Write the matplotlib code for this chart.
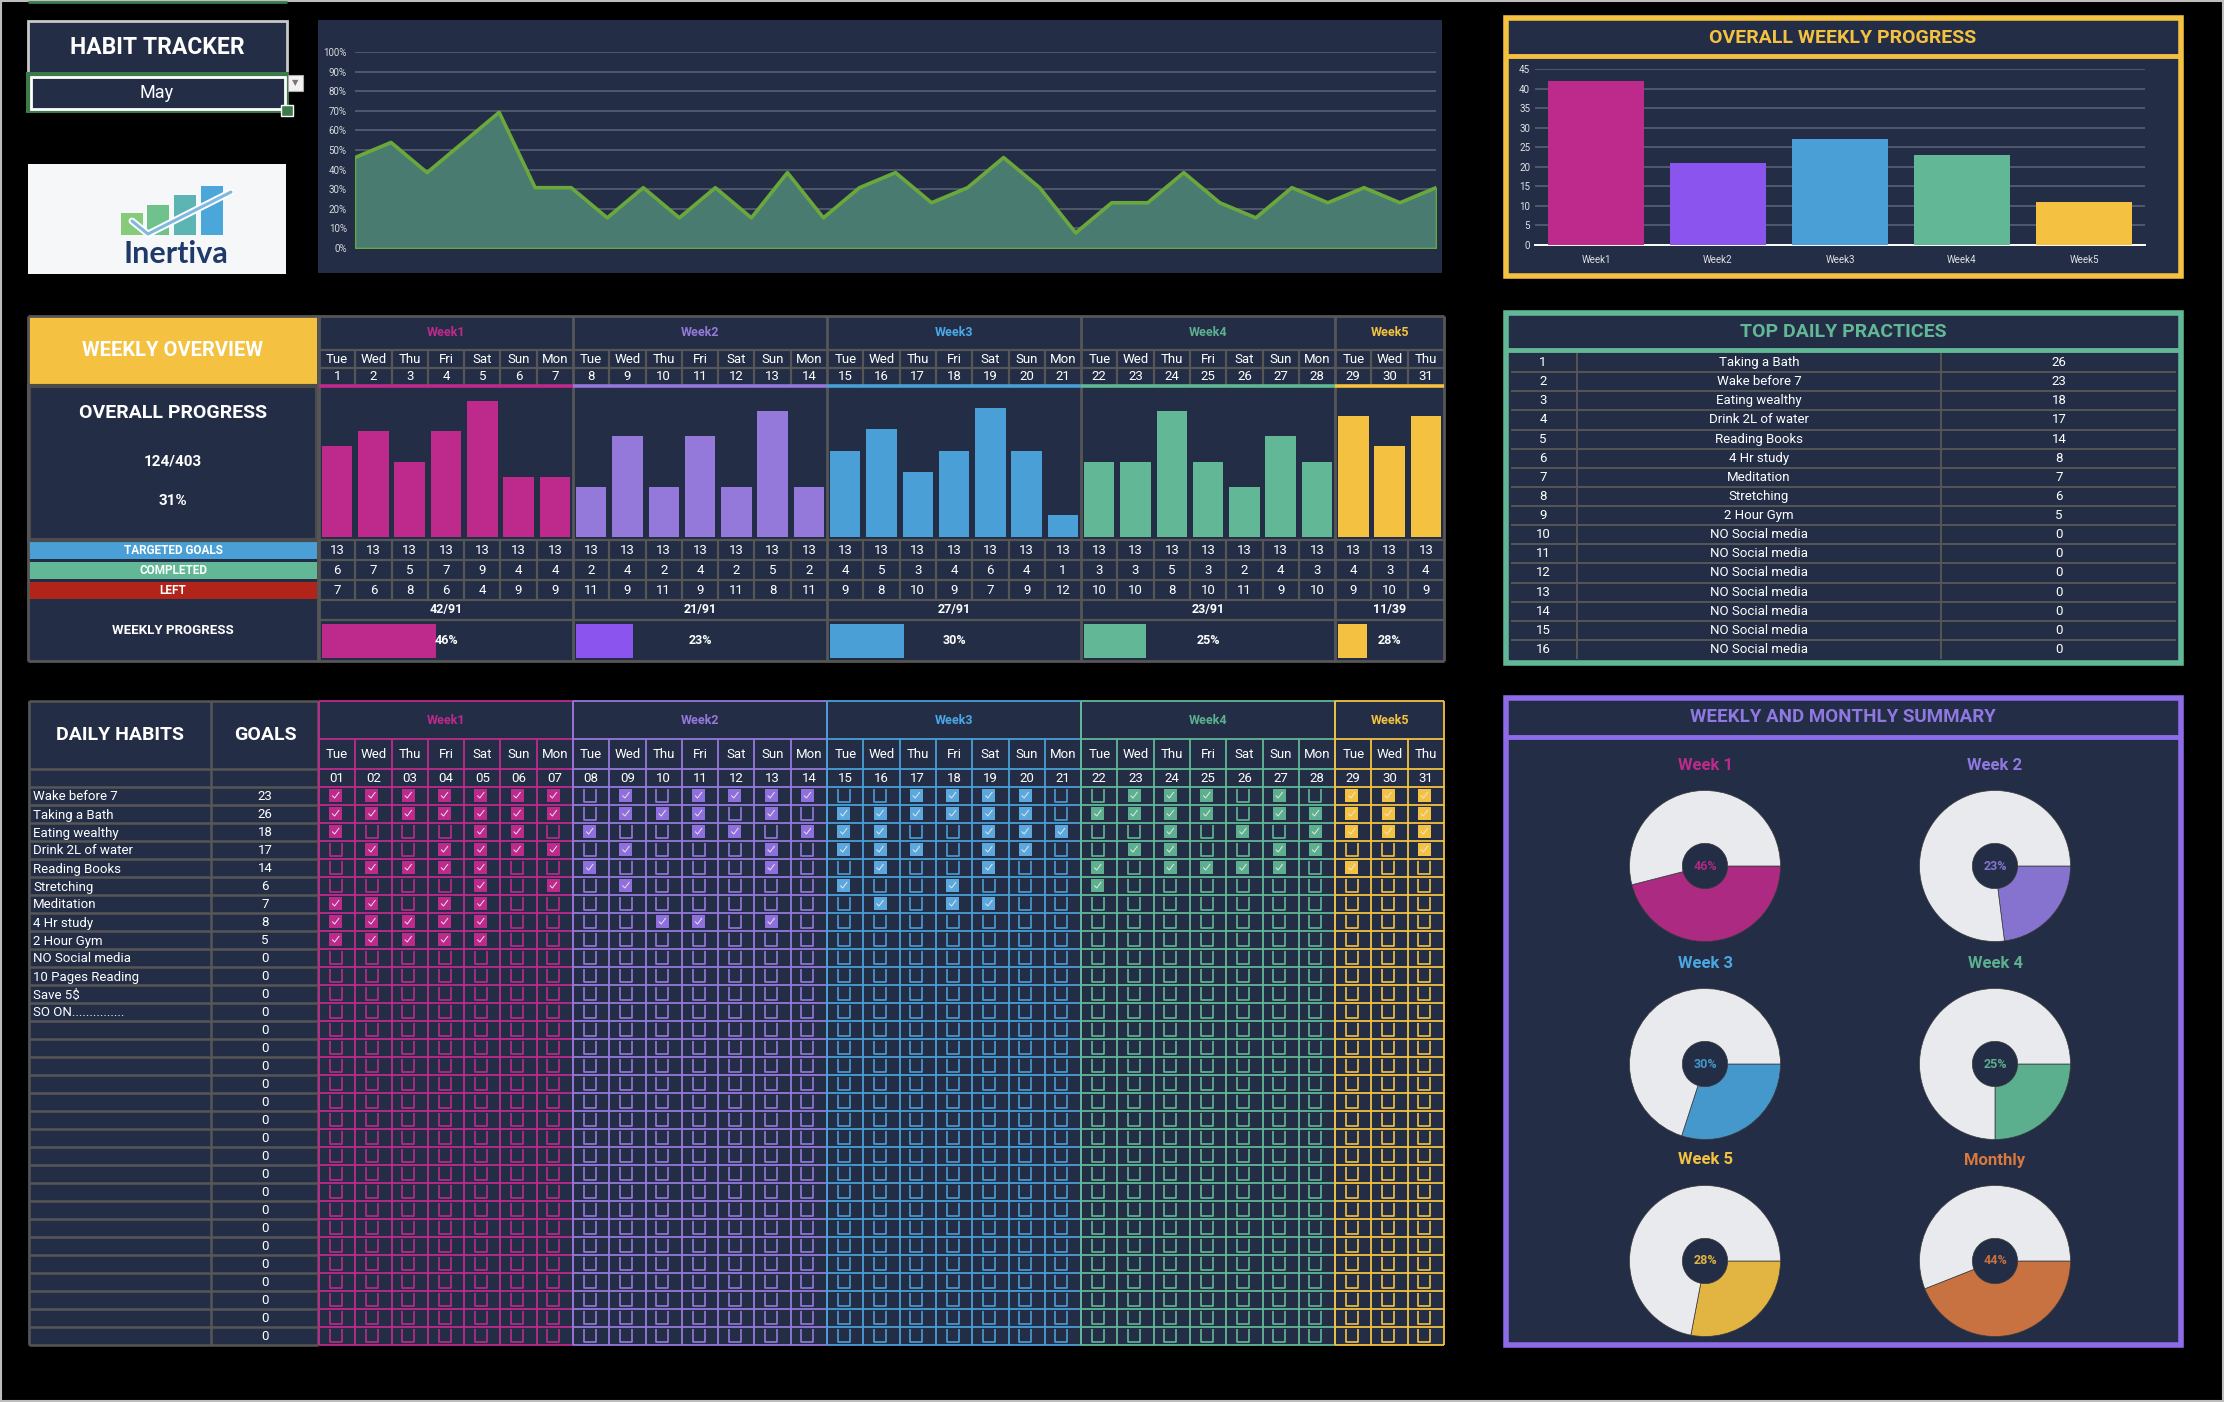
import matplotlib
matplotlib.use('Agg')
import matplotlib.pyplot as plt
from matplotlib.patches import Rectangle
from matplotlib.collections import LineCollection
import numpy as np

# ---------------- data ----------------
month = 'May'
day_numbers = list(range(1, 32))
day_names = ['Tue', 'Wed', 'Thu', 'Fri', 'Sat', 'Sun', 'Mon'] * 4 + ['Tue', 'Wed', 'Thu']
week_labels = ['Week1', 'Week2', 'Week3', 'Week4', 'Week5']
week_lengths = [7, 7, 7, 7, 3]
targeted = [13] * 31
completed = [6, 7, 5, 7, 9, 4, 4,
             2, 4, 2, 4, 2, 5, 2,
             4, 5, 3, 4, 6, 4, 1,
             3, 3, 5, 3, 2, 4, 3,
             4, 3, 4]
weekly_done = [42, 21, 27, 23, 11]
weekly_pct = [46, 23, 30, 25, 28]
overall_done = 124
overall_total = 403
overall_pct = 31

habit_names = ['Wake before 7', 'Taking a Bath', 'Eating wealthy', 'Drink 2L of water',
               'Reading Books', 'Stretching', 'Meditation', '4 Hr study', '2 Hour Gym',
               'NO Social media', '10 Pages Reading', 'Save 5$', 'SO ON...............'] + [''] * 18
habit_goals = [23, 26, 18, 17, 14, 6, 7, 8, 5] + [0] * 22
habit_checked_days = [
    [1, 2, 3, 4, 5, 6, 7, 9, 11, 12, 13, 14, 17, 18, 19, 20, 23, 24, 25, 27, 29, 30, 31],
    [1, 2, 3, 4, 5, 6, 7, 9, 10, 11, 13, 15, 16, 17, 18, 19, 20, 22, 23, 24, 25, 27, 28, 29, 30, 31],
    [1, 5, 6, 8, 11, 12, 14, 15, 16, 19, 20, 21, 24, 26, 28, 29, 30, 31],
    [2, 4, 5, 6, 7, 9, 13, 15, 16, 17, 19, 20, 23, 24, 27, 28, 31],
    [2, 3, 4, 5, 8, 13, 16, 19, 22, 24, 25, 26, 27, 29],
    [5, 7, 9, 15, 18, 22],
    [1, 2, 4, 5, 16, 18, 19],
    [1, 2, 3, 4, 5, 10, 11, 13],
    [1, 2, 3, 4, 5],
]

top_ranks = list(range(1, 17))
top_names = ['Taking a Bath', 'Wake before 7', 'Eating wealthy', 'Drink 2L of water', 'Reading Books',
             '4 Hr study', 'Meditation', 'Stretching', '2 Hour Gym'] + ['NO Social media'] * 7
top_values = [26, 23, 18, 17, 14, 8, 7, 6, 5] + [0] * 7

pie_labels = ['Week 1', 'Week 2', 'Week 3', 'Week 4', 'Week 5', 'Monthly']
pie_values = [46, 23, 30, 25, 28, 44]

# ---------------- style ----------------
plt.rcParams['font.family'] = ['Roboto', 'DejaVu Sans']
W, H = 2224, 1402
NAVY = '#232D45'
GRIDC = '#565656'
WEEK_C = ['#BE2A8C', '#9479DB', '#4A9FD6', '#62B896', '#F4C240']
WEEK_TXT = ['#BE2A8C', '#9479DB', '#4AA8E8', '#5DB08F', '#F4C240']
TOP_BAR_C = ['#BE2A8C', '#8B54EE', '#4A9FD6', '#62B896', '#F4C240']
PROG_C = ['#BE2A8C', '#8B54EE', '#4A9FD6', '#62B896', '#F4C240']
CHECK_FILL = ['#BE2A8C', '#8F6FDD', '#5BA8DE', '#5DB08F', '#F4C240']
PIE_C = ['#AD2A82', '#8673CF', '#4598CB', '#5BAE8E', '#E2B441', '#C87141']
PIE_TITLE_C = ['#BE2A8C', '#8F78E0', '#4AA8E0', '#5DB08F', '#F4C240', '#D9783F']

fig = plt.figure(figsize=(W / 100, H / 100), dpi=100, facecolor='black')
bg = fig.add_axes([0, 0, 1, 1])
bg.set_xlim(0, W)
bg.set_ylim(H, 0)
bg.axis('off')
bg.set_facecolor('black')


def px_axes(x0, y0, x1, y1):
    return fig.add_axes([x0 / W, 1 - y1 / H, (x1 - x0) / W, (y1 - y0) / H])


def rect(x0, y0, x1, y1, fc='none', ec='none', lw=0, z=1):
    bg.add_patch(Rectangle((x0, y0), x1 - x0, y1 - y0, facecolor=fc, edgecolor=ec,
                           linewidth=lw, zorder=z))


def txt(x, y, s, size=10, color='white', weight='normal', ha='center', va='center', z=5, **kw):
    bg.text(x, y, s, fontsize=size, color=color, fontweight=weight, ha=ha, va=va, zorder=z, **kw)


def hline(y, x0, x1, color=GRIDC, lw=1.6, z=3):
    bg.plot([x0, x1], [y, y], color=color, lw=lw, zorder=z, solid_capstyle='butt')


def vline(x, y0, y1, color=GRIDC, lw=1.6, z=3):
    bg.plot([x, x], [y0, y1], color=color, lw=lw, zorder=z, solid_capstyle='butt')


# outer frame
rect(1, 1, W - 1, H - 1, ec='#BDBDBD', lw=1.5, z=0.5)
hline(1.5, 28, 287, color='#3D7A4A', lw=2)

# ---------------- top-left header ----------------
rect(28, 21, 287, 73, fc=NAVY, ec='#C8C8C8', lw=2)
txt(157, 47, 'HABIT TRACKER', 16.5, weight='bold')
rect(26, 72, 289, 113, fc='#3D7A4A')
rect(31, 77, 285, 109, fc=NAVY, ec='white', lw=2)
txt(157, 93, month, 13)
rect(288, 75, 303, 91, fc='#F2F2F2', ec='#AAAAAA', lw=0.8)
bg.text(295.5, 83, '\u25BC', fontsize=6, color='#777777', ha='center', va='center',
        family='DejaVu Sans', zorder=6)
rect(281, 105, 293, 116, fc='#3D7A4A', ec='white', lw=1, z=4)

# logo
rect(28, 164, 286, 274, fc='#F6F7F9')
logo_cols = ['#86CB7A', '#6FC28C', '#5CB5B3', '#4BA6DA']
for i, (lx, top) in enumerate(zip([121, 147, 174, 201], [213, 205, 195, 186])):
    rect(lx, top, lx + 22, 235, fc=logo_cols[i], z=2)
bg.plot([132, 148, 231], [221, 234, 192], color='white', lw=5, zorder=3, solid_capstyle='round')
bg.plot([132, 148, 231], [221, 234, 192], color='#7FB8E0', lw=2.2, zorder=3.5, solid_capstyle='round')
bg.text(176, 254, 'Inertiva', fontsize=22, color='#1F3A68', fontweight='bold',
        ha='center', va='center', family='Lato', zorder=5)

# ---------------- area chart ----------------
rect(318, 20, 1442, 273, fc=NAVY)
daily_pct = np.array(completed) / np.array(targeted)
axa = px_axes(355, 52, 1436, 248)
axa.set_facecolor('none')
axa.fill_between(day_numbers, daily_pct, color='#4A7B70', edgecolor='#6AA73C', linewidth=1.2, zorder=2)
axa.plot(day_numbers, daily_pct, color='#6AA73C', lw=2.6, zorder=3)
axa.set_xlim(1, 31)
axa.set_ylim(0, 1)
axa.set_yticks(np.arange(0, 1.01, 0.1))
axa.set_yticklabels([f'{int(round(v * 100))}%' for v in np.arange(0, 1.01, 0.1)])
axa.set_xticks([])
axa.grid(axis='y', color='#5D6579', lw=1.1, zorder=1)
axa.tick_params(axis='y', length=0, labelsize=7, labelcolor='#D8DAE0', pad=6)
for s in axa.spines.values():
    s.set_visible(False)
axa.set_axisbelow(True)

# ---------------- overall weekly progress ----------------
rect(1506, 18, 2181, 276, fc=NAVY, ec='#F4C240', lw=4)
hline(56, 1506, 2181, color='#F4C240', lw=3.5)
txt(1843, 38, 'OVERALL WEEKLY PROGRESS', 14, color='#F4C240', weight='bold')
axw = px_axes(1535, 69, 2145, 245)
axw.set_facecolor('none')
axw.bar(range(5), weekly_done, width=0.78, color=TOP_BAR_C, zorder=3)
axw.set_xlim(-0.5, 4.5)
axw.set_ylim(0, 45)
axw.set_yticks(range(0, 46, 5))
axw.set_xticks(range(5))
axw.set_xticklabels(['Week1', 'Week2', 'Week3', 'Week4', 'Week5'])
axw.grid(axis='y', color='#5D6579', lw=1.1, zorder=1)
axw.tick_params(length=0, labelsize=7, labelcolor='#E0E2E8')
axw.tick_params(axis='x', pad=7, labelsize=7)
for k, s in axw.spines.items():
    s.set_visible(k == 'bottom')
axw.spines['bottom'].set_color('white')
axw.spines['bottom'].set_linewidth(1.4)

# ---------------- column geometry ----------------
X0, X1 = 319, 1444
ncol = 31
cw = (X1 - X0) / ncol
col_left = [X0 + i * cw for i in range(ncol)]
col_center = [c + cw / 2 for c in col_left]
week_start_idx = np.cumsum([0] + week_lengths[:-1])
week_x0 = [X0 + s * cw for s in week_start_idx]
week_x1 = [X0 + (s + n) * cw for s, n in zip(week_start_idx, week_lengths)]

# ---------------- weekly overview ----------------
rect(28, 316, 1444, 661, fc=NAVY, z=0.8)
rect(29, 316, 317, 384, fc='#F4C240')
txt(173, 350, 'WEEKLY OVERVIEW', 14.5, weight='bold')
rect(29, 386, 317, 540, fc=NAVY, ec='#4B4B4B', lw=3, z=2)
txt(173, 413, 'OVERALL PROGRESS', 14, weight='bold')
txt(173, 461, f'{overall_done}/{overall_total}', 11, weight='bold')
txt(173, 501, f'{overall_pct}%', 11, weight='bold')
rect(29, 542, 317, 559, fc='#4A9FD6')
txt(173, 550.5, 'TARGETED GOALS', 8.5, weight='bold')
rect(29, 562, 317, 579, fc='#62B896')
txt(173, 570.5, 'COMPLETED', 8.5, weight='bold')
rect(29, 582, 317, 599, fc='#B0241A')
txt(173, 590.5, 'LEFT', 8.5, weight='bold')
txt(173, 630, 'WEEKLY PROGRESS', 9.5, weight='bold')
hline(316, 28, 1444, lw=2)
hline(661, 28, 1444, lw=2)
vline(28, 316, 661, lw=2)
vline(1444, 316, 661, lw=2)
vline(318, 316, 661, lw=2)

for y in [350, 368, 540, 560, 580, 600, 620]:
    hline(y, X0, X1)
for i in range(ncol):
    if i in week_start_idx:
        continue
    vline(col_left[i], 350, 385)
    vline(col_left[i], 540, 600)
for x in week_x0:
    vline(x, 316, 661, lw=2)
for wi in range(5):
    hline(385.5, week_x0[wi], week_x1[wi], color=WEEK_C[wi], lw=2.6, z=4)
    xc = (week_x0[wi] + week_x1[wi]) / 2
    txt(xc, 333, week_labels[wi], 9, color=WEEK_TXT[wi], weight='bold')
    txt(xc, 610, f'{weekly_done[wi]}/{13 * week_lengths[wi]}', 9, weight='bold')
    bw = week_x1[wi] - week_x0[wi] - 6
    bg.barh(641, weekly_pct[wi] / 100 * bw, height=34, left=week_x0[wi] + 3,
            color=PROG_C[wi], zorder=3)
    txt(xc, 641, f'{weekly_pct[wi]}%', 9, weight='bold', z=6)
    # daily bars for this week
    s = week_start_idx[wi]
    n = week_lengths[wi]
    vals = completed[s:s + n]
    axb = px_axes(week_x0[wi], 386, week_x1[wi], 537)
    axb.set_facecolor('none')
    axb.bar(range(n), vals, width=0.84, color=WEEK_C[wi])
    axb.set_xlim(-0.5, n - 0.5)
    axb.set_ylim(0, max(vals) + 1)
    axb.axis('off')

for i in range(ncol):
    txt(col_center[i], 359.5, day_names[i], 9.5)
    txt(col_center[i], 377, str(day_numbers[i]), 9.5)
    txt(col_center[i], 550.5, str(targeted[i]), 9.5)
    txt(col_center[i], 570.5, str(completed[i]), 9.5)
    txt(col_center[i], 590.5, str(targeted[i] - completed[i]), 9.5)

# ---------------- top daily practices ----------------
rect(1506, 313, 2181, 663, fc=NAVY, ec='#62B896', lw=4)
hline(350, 1506, 2181, color='#62B896', lw=3.5)
txt(1843, 332, 'TOP DAILY PRACTICES', 14, color='#62B896', weight='bold')
ty0, ty1 = 353, 659
rh = (ty1 - ty0) / 16
for r in range(1, 16):
    hline(ty0 + r * rh, 1511, 2176, lw=1.4)
vline(1577, ty0, ty1, lw=1.4)
vline(1941, ty0, ty1, lw=1.4)
for r in range(16):
    yc = ty0 + (r + 0.5) * rh
    txt(1543, yc, str(top_ranks[r]), 9.5)
    txt(1759, yc, top_names[r], 9.5)
    txt(2059, yc, str(top_values[r]), 9.5)

# ---------------- daily habits grid ----------------
GY0 = 701
RY0 = 787
RH = 18
nrows = len(habit_names)
RY1 = RY0 + nrows * RH
rect(28, GY0, 1444, RY1, fc=NAVY, z=0.8)
txt(120, 735, 'DAILY HABITS', 14, weight='bold')
txt(265, 735, 'GOALS', 14, weight='bold')
for x in [29, 211, 318]:
    vline(x, GY0, RY1, lw=1.8)
for y in [GY0, 769, 787] + [RY0 + r * RH for r in range(1, nrows + 1)]:
    hline(y, 29, 318, lw=1.8)
for r in range(nrows):
    yc = RY0 + (r + 0.5) * RH
    if habit_names[r]:
        txt(33, yc + 1, habit_names[r], 9.5, ha='left')
    txt(265, yc + 1, str(habit_goals[r]), 9.5)

checked = np.zeros((nrows, ncol), dtype=bool)
for r, days in enumerate(habit_checked_days):
    for d in days:
        checked[r, d - 1] = True

for wi in range(5):
    c = WEEK_C[wi]
    x0w, x1w = week_x0[wi], week_x1[wi]
    segs = []
    for y in [GY0, 739, 769, 787] + [RY0 + r * RH for r in range(1, nrows + 1)]:
        segs.append([(x0w, y), (x1w, y)])
    segs.append([(x0w, GY0), (x0w, RY1)])
    segs.append([(x1w, GY0), (x1w, RY1)])
    s = week_start_idx[wi]
    for i in range(s + 1, s + week_lengths[wi]):
        segs.append([(col_left[i], 739), (col_left[i], RY1)])
    bg.add_collection(LineCollection(segs, colors=c, linewidths=1.3, zorder=3))
    txt((x0w + x1w) / 2, 720, week_labels[wi], 9, color=WEEK_TXT[wi], weight='bold')

for i in range(ncol):
    txt(col_center[i], 754, day_names[i], 9.5)
    txt(col_center[i], 778.5, f'{day_numbers[i]:02d}', 9.5)

for wi in range(5):
    c = WEEK_C[wi]
    boxes = []
    ticks = []
    s = week_start_idx[wi]
    for i in range(s, s + week_lengths[wi]):
        cx = col_center[i] - 1.5
        for r in range(nrows):
            yt = RY0 + r * RH
            if checked[r, i]:
                bg.add_patch(Rectangle((cx - 6.5, yt + 2), 13, 12.5, facecolor=CHECK_FILL[wi],
                                       edgecolor='none', zorder=4))
                ticks.append([(cx - 3.5, yt + 8.5), (cx - 1, yt + 11), (cx + 3.5, yt + 5)])
            else:
                boxes.append([(cx - 6, yt + 2), (cx - 6, yt + 14.5), (cx + 6, yt + 14.5), (cx + 6, yt + 2)])
    bg.add_collection(LineCollection(boxes, colors=c, linewidths=1.2, zorder=4))
    bg.add_collection(LineCollection(ticks, colors='#E6E6E6', linewidths=0.7, zorder=5))

# ---------------- weekly and monthly summary ----------------
rect(1506, 698, 2181, 1345, fc=NAVY, ec='#8E6BE8', lw=4)
hline(737, 1506, 2181, color='#8E6BE8', lw=3.5)
txt(1843, 717, 'WEEKLY AND MONTHLY SUMMARY', 13.5, color='#8F78E0', weight='bold')
pie_cx = [1705, 1995]
pie_cy = [866, 1064, 1261]
R = 77
for k in range(6):
    cx = pie_cx[k % 2]
    cy = pie_cy[k // 2]
    axp = px_axes(cx - R, cy - R, cx + R, cy + R)
    axp.pie([pie_values[k], 100 - pie_values[k]], colors=[PIE_C[k], '#E8EAEE'],
            startangle=0, counterclock=False,
            wedgeprops=dict(width=0.7, edgecolor='#3A3A3A', linewidth=0.5))
    axp.set_xlim(-1.02, 1.02)
    axp.set_ylim(-1.02, 1.02)
    axp.set_aspect('equal')
    axp.axis('off')
    axp.text(0, 0, f'{pie_values[k]}%', fontsize=9, color=PIE_C[k], fontweight='bold',
             ha='center', va='center')
    txt(cx, cy - 101, pie_labels[k], 12, color=PIE_TITLE_C[k], weight='bold')

fig.savefig('out.png', dpi=100, facecolor='black')
